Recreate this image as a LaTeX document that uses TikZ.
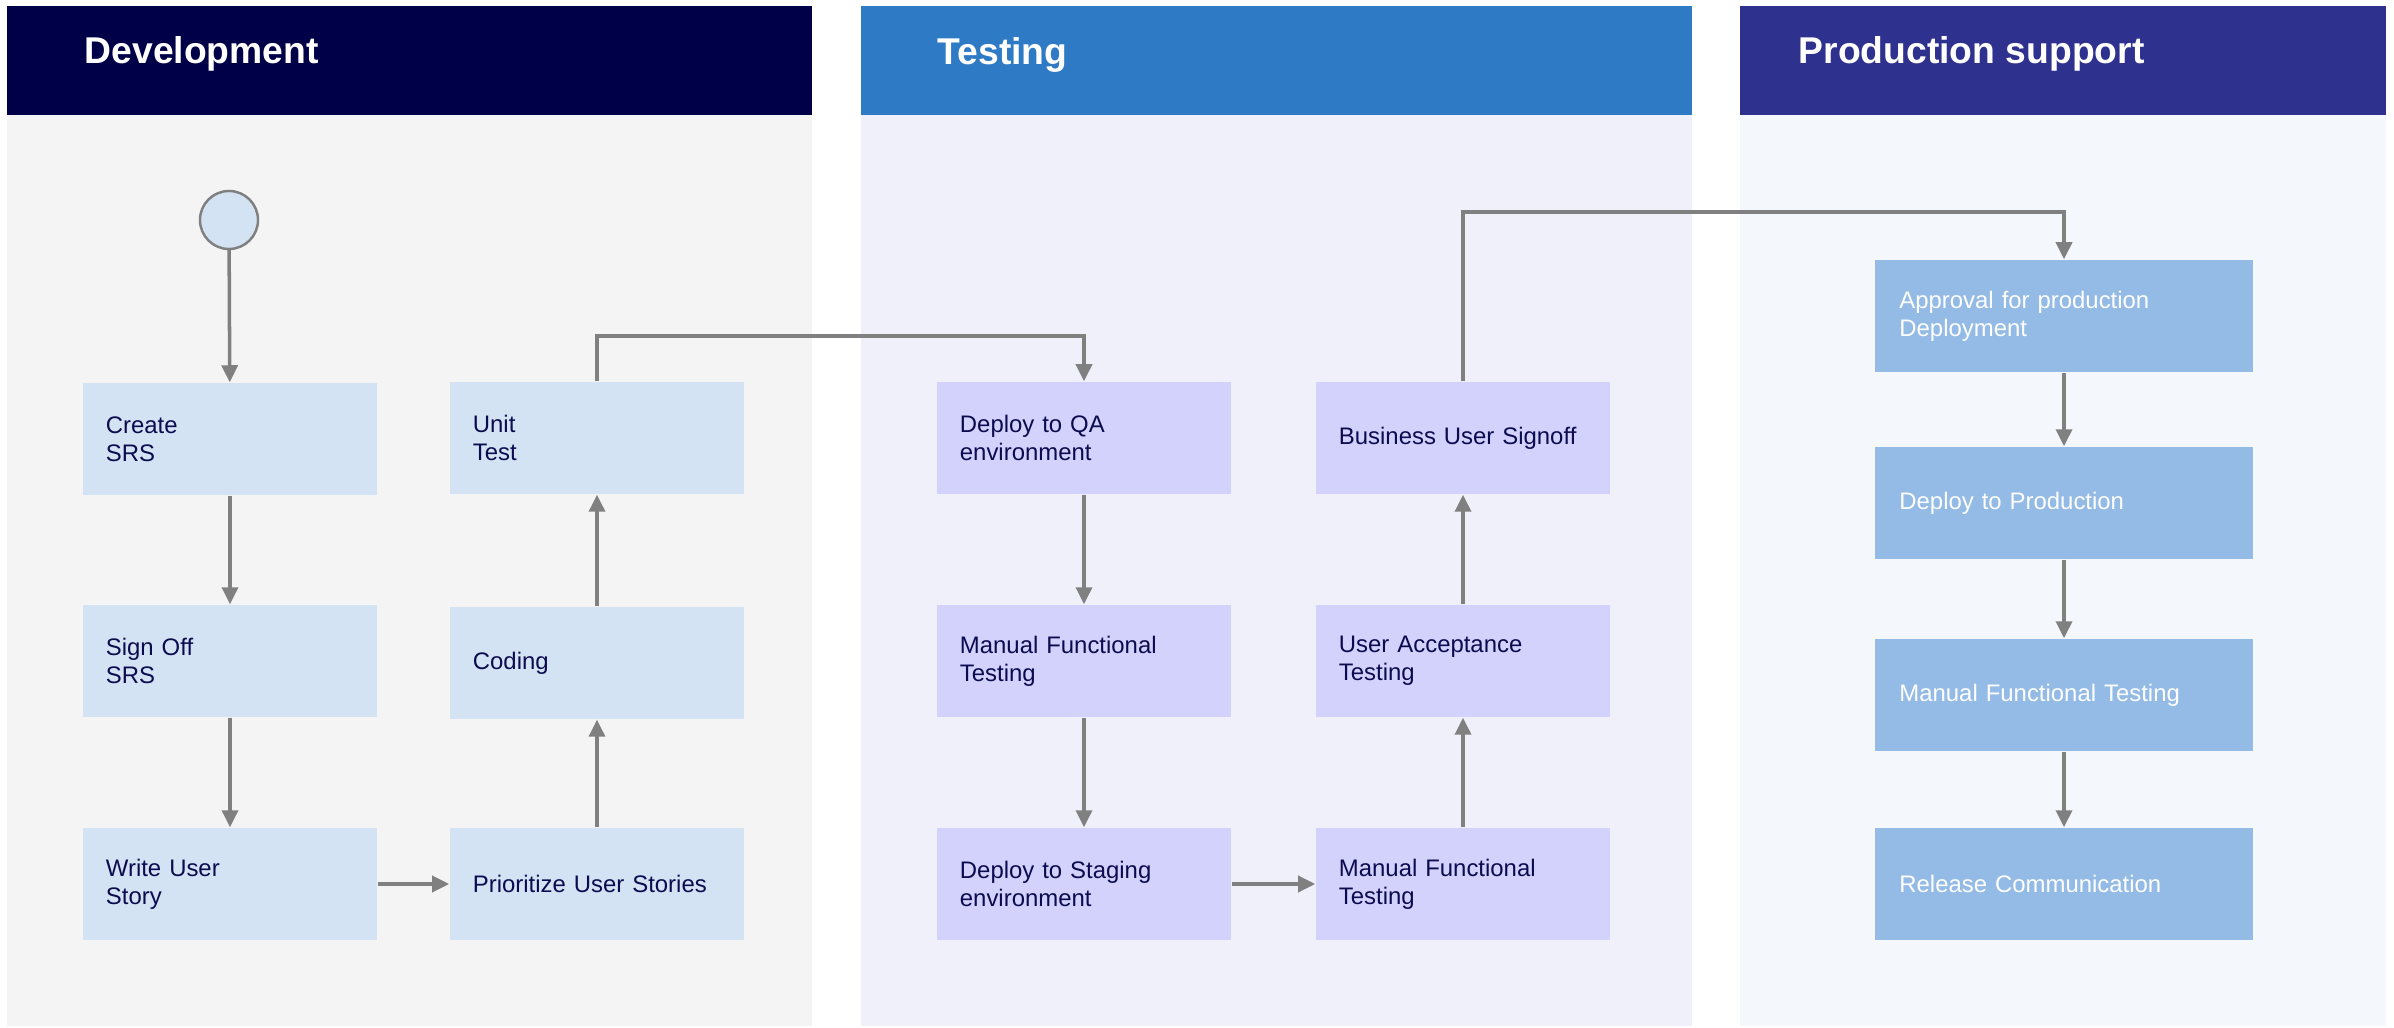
\documentclass[tikz,border=0pt]{standalone}
\usepackage{fontspec}
\setmainfont{Liberation Sans}
\usepackage{tikz}
\usetikzlibrary{arrows.meta}
\definecolor{flDevHead}{HTML}{000048}
\definecolor{flQaHead}{HTML}{2F7AC5}
\definecolor{flProdHead}{HTML}{2E318E}
\definecolor{flDevLane}{HTML}{F4F4F4}
\definecolor{flQaLane}{HTML}{F0F0FB}
\definecolor{flProdLane}{HTML}{F4F8FC}
\definecolor{flDevBox}{HTML}{D4E3F3}
\definecolor{flQaBox}{HTML}{D2D2FC}
\definecolor{flProdBox}{HTML}{93BBE5}
\definecolor{flInk}{HTML}{0B0B4F}
\definecolor{flLine}{HTML}{808080}

\begin{document}
\begin{tikzpicture}[
  x=0.01cm, y=-0.01cm,
  font=\fontsize{6.8}{8}\selectfont,
  head/.style={anchor=base west, inner sep=0pt, text=white,
               font=\fontsize{10.6}{12}\selectfont\bfseries},
  task/.style={rectangle, minimum height=1.12cm, text width=2.48cm,
               inner xsep=0.23cm, inner ysep=0pt, align=left, text=flInk},
  devtask/.style={task, fill=flDevBox},
  qatask/.style={task, fill=flQaBox},
  prodtask/.style={task, fill=flProdBox, text=white,
                   text width=3.29cm, inner xsep=0.24cm},
  startdot/.style={circle, minimum size=0.58cm, inner sep=0pt,
                   fill=flDevBox, draw=flLine, line width=0.7pt},
  arr/.style={-{Triangle[length=0.17cm, width=0.16cm]}, line width=1pt, flLine}
]
  \useasboundingbox (0,0) rectangle (2394,1028);

  % lanes
  \fill[flDevLane] (7,115) rectangle (812,1026);
  \fill[flQaLane] (861,115) rectangle (1692,1026);
  \fill[flProdLane] (1740,115) rectangle (2386,1026);
  \fill[flDevHead] (7,6) rectangle (812,115);
  \fill[flQaHead] (861,6) rectangle (1692,115);
  \fill[flProdHead] (1740,6) rectangle (2386,115);
  \node[head] (devhead) at (84,64) {Development};
  \node[head] (qahead) at (937,65) {Testing};
  \node[head] (prodhead) at (1798,64) {Production support};

  % development
  \node[startdot] (start) at (229,220) {};
  \node[devtask] (create) at (230,439) {Create\\SRS};
  \node[devtask] (signsrs) at (230,661) {Sign Off\\SRS};
  \node[devtask] (story) at (230,884) {Write User\\Story};
  \node[devtask] (prio) at (597,884) {Prioritize User Stories};
  \node[devtask] (coding) at (597,663) {Coding};
  \node[devtask] (unit) at (597,438) {Unit\\Test};

  % testing
  \node[qatask] (qa) at (1084,438) {Deploy to QA\\environment};
  \node[qatask] (mftqa) at (1084,661) {Manual Functional\\Testing};
  \node[qatask] (staging) at (1084,884) {Deploy to Staging\\environment};
  \node[qatask] (mftstage) at (1463,884) {Manual Functional\\Testing};
  \node[qatask] (uat) at (1463,661) {User Acceptance\\Testing};
  \node[qatask] (bizsign) at (1463,438) {Business User Signoff};

  % production support
  \node[prodtask] (approve) at (2064,316) {Approval for production\\Deployment};
  \node[prodtask] (proddeploy) at (2064,503) {Deploy to Production};
  \node[prodtask] (mftprod) at (2064,695) {Manual Functional Testing};
  \node[prodtask] (release) at (2064,884) {Release Communication};

  \coordinate (hopA) at (0,336);
  \coordinate (hopB) at (0,212);

  \draw[arr] (start) -- (create);
  \draw[arr] (create) -- (signsrs);
  \draw[arr] (signsrs) -- (story);
  \draw[arr] (story) -- (prio);
  \draw[arr] (prio) -- (coding);
  \draw[arr] (coding) -- (unit);
  \draw[arr] (unit.north) -- (unit.north |- hopA) -| (qa.north);
  \draw[arr] (qa) -- (mftqa);
  \draw[arr] (mftqa) -- (staging);
  \draw[arr] (staging) -- (mftstage);
  \draw[arr] (mftstage) -- (uat);
  \draw[arr] (uat) -- (bizsign);
  \draw[arr] (bizsign.north) -- (bizsign.north |- hopB) -| (approve.north);
  \draw[arr] (approve) -- (proddeploy);
  \draw[arr] (proddeploy) -- (mftprod);
  \draw[arr] (mftprod) -- (release);
\end{tikzpicture}
\end{document}
